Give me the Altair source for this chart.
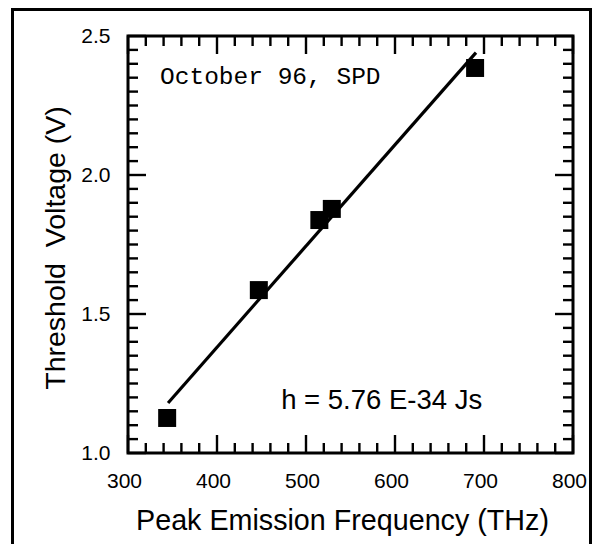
import altair as alt
import pandas as pd

# Measured points
freq_thz = [344, 447, 515, 529, 690]
volt_v = [1.126, 1.586, 1.838, 1.878, 2.385]

# Fitted line end points
fit_freq = [345, 691]
fit_volt = [1.18, 2.44]

# Axis ticks
x_major = [300, 400, 500, 600, 700, 800]
x_minor = [320, 340, 360, 380, 420, 440, 460, 480, 520, 540, 560, 580,
           620, 640, 660, 680, 720, 740, 760, 780]
y_major = [1.0, 1.5, 2.0, 2.5]
y_minor = [1.05, 1.1, 1.15, 1.2, 1.25, 1.3, 1.35, 1.4, 1.45,
           1.55, 1.6, 1.65, 1.7, 1.75, 1.8, 1.85, 1.9, 1.95,
           2.05, 2.1, 2.15, 2.2, 2.25, 2.3, 2.35, 2.4, 2.45]

note_text = "October 96, SPD"
h_text = "h = 5.76 E-34 Js"
x_title = "Peak Emission Frequency (THz)"
y_title = "Threshold\u00a0 Voltage (V)"

W, H = 445, 417
X0, X1, Y0, Y1 = 300, 800, 1.0, 2.5
DX = (X1 - X0) / W   # data units per pixel
DY = (Y1 - Y0) / H
FONT = "Liberation Sans"

xscale = alt.Scale(domain=[X0, X1], nice=False, zero=False)
yscale = alt.Scale(domain=[Y0, Y1], nice=False, zero=False)

xaxis = alt.Axis(values=x_major, format="d", title=x_title, domain=False, ticks=False,
                 tickSize=0, grid=False, labelFlush=False, labelOverlap=False,
                 labelFont=FONT, labelFontSize=21, labelColor="black",
                 labelBaseline="alphabetic", labelPadding=34, labelOffset=-4,
                 titleFont=FONT, titleFontSize=28.7, titleFontWeight="normal",
                 titleColor="black", titleBaseline="alphabetic", titleAlign="center",
                 titleX=214, titleY=76)
yaxis = alt.Axis(values=y_major, format=".1f", title=y_title, domain=False, ticks=False,
                 tickSize=0, grid=False, labelFlush=False, labelOverlap=False,
                 labelFont=FONT, labelFontSize=21, labelColor="black",
                 labelPadding=18,
                 titleFont=FONT, titleFontSize=28.5, titleFontWeight="normal",
                 titleColor="black", titleBaseline="alphabetic", titleAlign="center",
                 titleAngle=270, titleX=-64, titleY=H / 2 + 3)

X = lambda f: alt.X(f, type="quantitative", scale=xscale, axis=xaxis)
Y = lambda f: alt.Y(f, type="quantitative", scale=yscale, axis=yaxis)

pts = pd.DataFrame({"f": freq_thz, "v": volt_v})
fit = pd.DataFrame({"f": fit_freq, "v": fit_volt})
xmaj = pd.DataFrame({"f": x_major})
xmin = pd.DataFrame({"f": x_minor})
ymaj = pd.DataFrame({"v": y_major})
ymin = pd.DataFrame({"v": y_minor})

TW = 2.4
rule = dict(color="black", strokeWidth=TW, strokeCap="butt")
layers = []
# x ticks bottom/top
for df, ln in [(xmaj, 18), (xmin, 10)]:
    layers.append(alt.Chart(df).mark_rule(**rule).encode(
        x=X("f"), y=alt.datum(Y0), y2=alt.datum(Y0 + ln * DY)))
    layers.append(alt.Chart(df).mark_rule(**rule).encode(
        x=X("f"), y=alt.datum(Y1), y2=alt.datum(Y1 - ln * DY)))
# y ticks left/right
for df, ln in [(ymaj, 18), (ymin, 10)]:
    layers.append(alt.Chart(df).mark_rule(**rule).encode(
        y=Y("v"), x=alt.datum(X0), x2=alt.datum(X0 + ln * DX)))
    layers.append(alt.Chart(df).mark_rule(**rule).encode(
        y=Y("v"), x=alt.datum(X1), x2=alt.datum(X1 - ln * DX)))

line = alt.Chart(fit).mark_line(color="black", strokeWidth=3.2).encode(x=X("f"), y=Y("v"))
points = alt.Chart(pts).mark_square(color="black", size=324, opacity=1, filled=True).encode(
    x=X("f"), y=Y("v"))

one = alt.Data(values=[{}])
note = alt.Chart(one).mark_text(text=note_text, font="Liberation Mono", fontSize=24.5,
                                align="left", baseline="alphabetic", color="black").encode(
    x=alt.datum(336), y=alt.datum(2.327))
hnote = alt.Chart(one).mark_text(text=h_text, font=FONT, fontSize=27.5,
                                 align="center", baseline="alphabetic", color="black").encode(
    x=alt.datum(585), y=alt.datum(1.158))

border = alt.Chart(one).mark_rect(filled=False, stroke="black", strokeWidth=3).encode(
    x=alt.value(-115.5), x2=alt.value(462.5), y=alt.value(-26.5), y2=alt.value(530))

chart = alt.layer(*layers, line, points, note, hnote, border).properties(
    width=W, height=H,
    background="white",
    autosize=alt.AutoSizeParams(type="none"),
    padding={"left": 120, "top": 28, "right": 19, "bottom": 91},
).configure_view(stroke="black", strokeWidth=3)

chart.save("out.html", embed_options={"renderer": "svg", "actions": False})
